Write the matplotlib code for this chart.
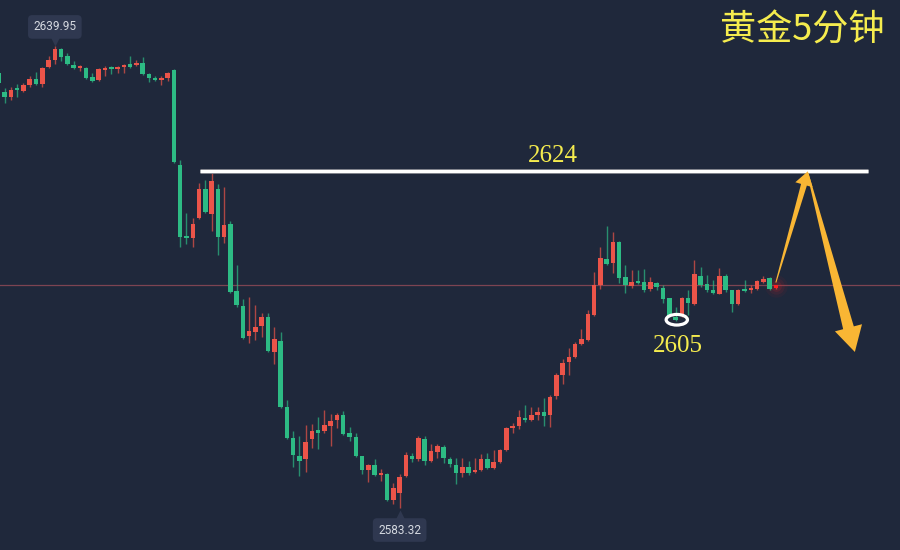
import numpy as np
import matplotlib
matplotlib.use("Agg")
import matplotlib.pyplot as plt
from matplotlib.patches import Ellipse, Polygon
from matplotlib.transforms import IdentityTransform
import matplotlib.patheffects as pe

# 5-minute gold candles (index 0 is the partly cut-off bar at the left edge)
opens = [2636.65, 2634.32, 2633.71, 2634.81, 2634.44, 2635.18, 2635.91, 2635.30, 2637.39, 2638.24,
         2639.59, 2638.73, 2637.63, 2637.26, 2637.26, 2636.16, 2635.79, 2637.02, 2637.26, 2637.14,
         2637.39, 2637.75, 2637.63, 2637.88, 2636.53, 2636.04, 2635.79, 2636.04, 2637.02, 2625.37,
         2616.54, 2616.42, 2618.87, 2622.43, 2619.36, 2622.43, 2616.54, 2618.14, 2609.92, 2608.08,
         2604.41, 2604.90, 2605.63, 2606.74, 2602.44, 2603.79, 2595.70, 2591.90, 2589.69, 2589.33,
         2591.78, 2592.88, 2592.76, 2593.37, 2594.11, 2594.72, 2592.51, 2592.02, 2589.69, 2587.98,
         2588.59, 2587.37, 2587.49, 2584.30, 2585.16, 2587.24, 2589.69, 2589.33, 2591.78, 2589.08,
         2590.19, 2590.80, 2589.33, 2588.59, 2587.61, 2588.35, 2587.73, 2587.98, 2589.33, 2588.22,
         2588.96, 2590.43, 2593.13, 2593.37, 2594.35, 2594.11, 2594.72, 2595.09, 2594.72, 2597.05,
         2599.63, 2601.22, 2601.83, 2603.43, 2603.92, 2606.98, 2610.66, 2613.85, 2613.36, 2615.93,
         2611.64, 2610.54, 2611.15, 2611.03, 2610.17, 2610.90, 2610.29, 2609.07, 2606.74, 2606.98,
         2609.07, 2608.33, 2611.76, 2610.78, 2610.05, 2609.56, 2611.76, 2610.05, 2608.33, 2610.17,
         2610.05, 2610.17, 2611.03, 2611.52, 2610.29]
highs = [2636.90, 2634.81, 2634.93, 2635.30, 2635.42, 2636.28, 2636.77, 2637.39, 2638.73, 2639.95,
         2639.72, 2639.10, 2638.12, 2637.63, 2637.39, 2636.65, 2637.26, 2637.51, 2637.51, 2637.45,
         2637.75, 2638.73, 2638.24, 2638.61, 2636.65, 2636.28, 2636.28, 2636.77, 2637.14, 2625.98,
         2619.49, 2618.87, 2623.16, 2623.53, 2624.39, 2623.04, 2622.67, 2618.51, 2613.11, 2608.94,
         2609.19, 2608.21, 2607.23, 2607.23, 2605.51, 2604.90, 2596.56, 2592.76, 2592.15, 2593.50,
         2593.62, 2594.48, 2595.33, 2594.84, 2594.97, 2595.21, 2593.25, 2592.51, 2589.75, 2588.71,
         2589.33, 2588.10, 2587.61, 2586.38, 2587.49, 2590.19, 2590.06, 2592.15, 2592.15, 2591.17,
         2591.17, 2591.04, 2589.57, 2589.45, 2589.45, 2589.08, 2589.45, 2589.94, 2590.06, 2590.43,
         2590.55, 2593.25, 2593.74, 2595.33, 2595.95, 2595.70, 2595.70, 2596.81, 2597.17, 2599.87,
         2601.59, 2602.94, 2603.67, 2605.26, 2607.59, 2612.25, 2615.32, 2617.89, 2617.16, 2616.05,
         2613.11, 2612.50, 2612.50, 2612.62, 2611.64, 2611.03, 2610.66, 2609.10, 2607.96, 2609.19,
         2610.05, 2613.72, 2612.87, 2611.89, 2611.27, 2612.74, 2612.01, 2610.10, 2610.17, 2611.27,
         2610.66, 2611.27, 2611.76, 2611.64, 2610.70]
lows = [2635.20, 2632.97, 2633.34, 2633.71, 2634.32, 2634.93, 2635.18, 2634.93, 2637.26, 2637.75,
        2638.12, 2637.63, 2637.14, 2636.90, 2635.95, 2635.60, 2635.70, 2636.28, 2636.53, 2636.65,
        2636.65, 2637.26, 2637.51, 2636.41, 2635.55, 2635.67, 2635.18, 2635.67, 2625.62, 2615.32,
        2615.69, 2615.32, 2618.80, 2619.50, 2617.28, 2614.34, 2615.81, 2609.68, 2607.96, 2604.04,
        2603.55, 2603.92, 2604.28, 2602.44, 2600.97, 2595.60, 2591.78, 2588.35, 2587.24, 2587.73,
        2590.68, 2590.55, 2592.51, 2590.92, 2593.13, 2592.27, 2591.53, 2589.57, 2587.49, 2586.51,
        2587.24, 2586.63, 2584.18, 2583.81, 2583.32, 2587.12, 2588.96, 2589.08, 2588.59, 2588.96,
        2589.45, 2588.84, 2588.35, 2586.26, 2587.12, 2587.37, 2587.61, 2587.86, 2588.10, 2588.10,
        2588.84, 2590.30, 2592.51, 2593.00, 2593.86, 2593.99, 2594.11, 2593.37, 2593.25, 2596.68,
        2598.52, 2599.63, 2601.71, 2603.30, 2603.79, 2606.90, 2610.17, 2613.10, 2612.13, 2610.90,
        2609.68, 2610.29, 2610.80, 2609.80, 2609.92, 2610.05, 2608.45, 2606.74, 2606.25, 2606.74,
        2606.98, 2608.20, 2610.41, 2609.80, 2609.56, 2609.50, 2609.80, 2607.35, 2608.25, 2609.80,
        2609.68, 2610.05, 2610.90, 2610.05, 2610.20]
closes = [2635.42, 2633.71, 2634.57, 2634.57, 2635.18, 2635.91, 2635.30, 2637.26, 2638.24, 2639.59,
          2638.61, 2637.75, 2637.26, 2637.39, 2636.04, 2635.67, 2637.14, 2637.26, 2637.14, 2637.39,
          2637.63, 2637.39, 2637.88, 2636.53, 2636.04, 2635.79, 2636.04, 2636.65, 2625.74, 2616.54,
          2616.42, 2618.14, 2622.43, 2619.61, 2623.41, 2616.54, 2618.02, 2609.80, 2608.21, 2604.16,
          2605.02, 2605.51, 2606.74, 2602.57, 2604.04, 2595.70, 2591.90, 2589.82, 2589.08, 2591.41,
          2592.76, 2592.51, 2593.50, 2593.99, 2594.72, 2592.39, 2592.02, 2589.69, 2587.98, 2588.59,
          2587.37, 2587.49, 2584.30, 2585.77, 2587.12, 2589.82, 2589.33, 2591.90, 2589.08, 2590.31,
          2590.92, 2589.45, 2588.71, 2587.61, 2588.35, 2587.61, 2587.98, 2589.33, 2588.22, 2588.96,
          2590.43, 2593.13, 2593.37, 2594.48, 2594.11, 2594.72, 2595.09, 2594.60, 2596.93, 2599.63,
          2601.10, 2601.83, 2603.43, 2604.04, 2607.10, 2610.66, 2613.97, 2613.23, 2615.93, 2611.52,
          2610.66, 2611.03, 2610.90, 2610.05, 2611.03, 2610.41, 2608.94, 2606.86, 2606.37, 2609.07,
          2608.45, 2612.01, 2610.66, 2610.05, 2609.68, 2611.76, 2610.05, 2608.33, 2610.05, 2609.92,
          2610.17, 2611.15, 2611.40, 2610.17, 2610.66]

hi_label = "2639.95"
lo_label = "2583.32"
resist_level = 2624.6     # hand-drawn line, labelled 2624
resist_text = "2624"
support_text = "2605"
support_price = 2606.4
title = "黄金5分钟"

BG = "#1f283b"
UP = "#eb5449"
DOWN = "#2dbb84"
YELLOW = "#f5ec4e"
ORANGE = "#f9b634"
TIP_BG = "#2f3850"


def taper_arrow(ax, p0, p1, tail_w, neck_w, head_w, head_len, color):
    # arrow drawn in pixel space so the widths stay in pixels
    t = ax.transData.transform(p0)
    h = ax.transData.transform(p1)
    d = h - t
    u = d / np.hypot(*d)
    n = np.array([-u[1], u[0]])
    neck = h - u * head_len
    pts = [t + n * tail_w / 2, neck + n * neck_w / 2, neck + n * head_w / 2, h,
           neck - n * head_w / 2, neck - n * neck_w / 2, t - n * tail_w / 2]
    ax.add_patch(Polygon(pts, closed=True, fc=color, ec="none",
                         transform=IdentityTransform(), zorder=6))


fig = plt.figure(figsize=(9, 5.5), dpi=100)
fig.patch.set_facecolor(BG)
ax = fig.add_axes([0, 0, 1, 1])
ax.set_facecolor(BG)
ax.axis("off")
ax.set_xlim(0.255, 143.8)
ax.set_ylim(2578.17, 2645.6)

o = np.array(opens); h = np.array(highs); l = np.array(lows); c = np.array(closes)
x = np.arange(len(o))
up = c >= o
cols = np.where(up, UP, DOWN)

# last traded price line
ax.axhline(c[-1], color="#7d4452", lw=0.9, zorder=1)

ax.vlines(x, l, h, colors=cols, lw=1.0, alpha=0.7, zorder=2)
body = np.maximum(np.abs(c - o), 0.25)
ax.bar(x, body, bottom=np.minimum(o, c), width=0.72, color=cols, zorder=3)

# live candle highlight
for s, a in [(260, 0.05), (140, 0.08), (60, 0.12)]:
    ax.scatter(x[-1], c[-1] - 0.15, s=s, color="#ff2020", alpha=a, lw=0, zorder=2)
ax.bar(x[-1], body[-1], bottom=min(o[-1], c[-1]), width=0.72, color="#ff1f1f", zorder=4)

# high / low tooltips
i_hi = int(np.argmax(h)); i_lo = int(np.argmin(l))
ax.text(i_hi, h[i_hi] + 2.35, hi_label, ha="center", va="center", fontsize=8.5,
        family="Roboto", color="#d5d9e0",
        bbox=dict(boxstyle="round,pad=0.45,rounding_size=0.35", fc=TIP_BG, ec="none"), zorder=7)
ax.plot(i_hi, h[i_hi] + 0.62, marker="v", ms=7, color=TIP_BG, mec="none", zorder=7)
ax.text(i_lo, l[i_lo] - 2.7, lo_label, ha="center", va="center", fontsize=8.5,
        family="Roboto", color="#d5d9e0",
        bbox=dict(boxstyle="round,pad=0.45,rounding_size=0.35", fc=TIP_BG, ec="none"), zorder=7)
ax.plot(i_lo, l[i_lo] - 0.9, marker="^", ms=7, color=TIP_BG, mec="none", zorder=7)

# resistance line
ax.hlines(resist_level, 32.15, 138.7, color="white", lw=2.2, zorder=5,
          path_effects=[pe.Stroke(linewidth=3.4, foreground="#8d8f96"), pe.Normal()])
ax.text(88.45, resist_level + 1.9, resist_text, ha="center", va="center", fontsize=18,
        family="Liberation Serif", color=YELLOW, zorder=6)

# 2605 marker
ax.add_patch(Ellipse((108.2, support_price), 3.4, 1.3, fc="none", ec="white", lw=2.3, zorder=6))
ax.text(108.4, support_price - 3.2, support_text, ha="center", va="center", fontsize=18,
        family="Liberation Serif", color=YELLOW, zorder=6)

# projected path
taper_arrow(ax, (x[-1], c[-1] + 0.3), (129.1, resist_level), 1.0, 6, 18, 14, ORANGE)
taper_arrow(ax, (129.1, resist_level - 0.3), (136.6, 2602.45), 1.5, 11, 28, 25, ORANGE)

ax.text(0.891, 0.945, title, transform=ax.transAxes, ha="center", va="center",
        fontsize=26, family=["Noto Sans CJK SC", "DejaVu Sans"], color=YELLOW, zorder=7)

fig.savefig("out.png", dpi=100, facecolor=BG)
